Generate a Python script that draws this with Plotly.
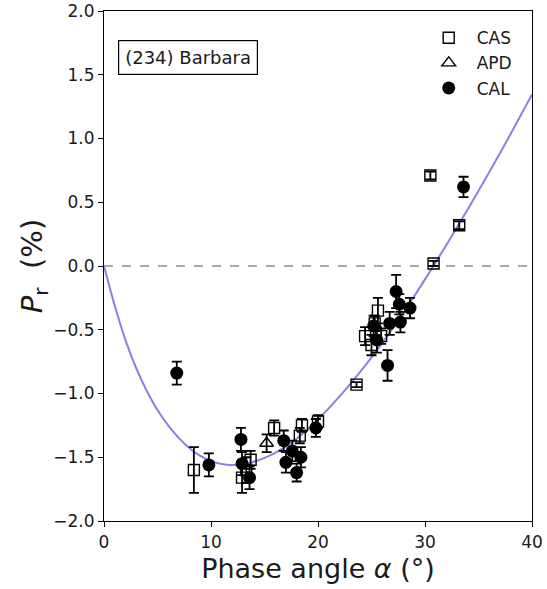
import plotly.graph_objects as go

# Polarimetric measurements of (234) Barbara: phase angle (deg), Pr (%), 1-sigma error
cas_alpha = [8.4, 12.9, 13.3, 13.7, 15.9, 18.3, 18.5, 20.0, 23.6, 24.4, 25.0, 25.3, 25.6, 25.9, 30.5, 30.8, 33.2]
cas_pr    = [-1.60, -1.66, -1.60, -1.52, -1.27, -1.33, -1.25, -1.22, -0.93, -0.55, -0.62, -0.45, -0.35, -0.55, 0.71, 0.02, 0.32]
cas_err   = [0.18, 0.12, 0.10, 0.07, 0.06, 0.06, 0.05, 0.05, 0.02, 0.07, 0.08, 0.06, 0.10, 0.06, 0.03, 0.02, 0.03]

apd_alpha = [15.2]
apd_pr    = [-1.39]
apd_err   = [0.07]

cal_alpha = [6.8, 9.8, 12.8, 12.9, 13.6, 16.8, 17.0, 17.6, 18.0, 18.4, 19.8,
             25.2, 25.5, 26.5, 26.7, 27.3, 27.6, 27.7, 28.6, 33.6]
cal_pr    = [-0.84, -1.56, -1.36, -1.55, -1.66, -1.37, -1.54, -1.45, -1.62, -1.50, -1.27,
             -0.47, -0.58, -0.78, -0.45, -0.20, -0.30, -0.44, -0.33, 0.62]
cal_err   = [0.09, 0.09, 0.09, 0.09, 0.09, 0.08, 0.08, 0.08, 0.07, 0.08, 0.07,
             0.08, 0.10, 0.12, 0.09, 0.13, 0.08, 0.08, 0.08, 0.08]

# Phase-curve fit sampled along alpha
fit_alpha = [0, 1, 2, 3, 4, 5, 6, 7, 8, 9, 10, 11, 12, 13, 14, 15, 16, 17, 18, 19, 20,
             22, 24, 26, 28, 30, 32, 34, 36, 38, 40]
fit_pr    = [0, -0.31, -0.58, -0.80, -0.98, -1.13, -1.25, -1.35, -1.43, -1.49, -1.53, -1.553,
             -1.56, -1.555, -1.535, -1.505, -1.465, -1.415, -1.355, -1.285, -1.205,
             -1.025, -0.825, -0.605, -0.365, -0.105, 0.165, 0.445, 0.735, 1.035, 1.345]

FONT = "DejaVu Sans"
TXT = "#1a1a1a"

fig = go.Figure()

fig.add_trace(go.Scatter(
    x=fit_alpha, y=fit_pr, mode="lines", showlegend=False,
    line=dict(color="#8F7EE0", width=2, shape="spline", smoothing=0.6),
    hoverinfo="skip"))

def err(arr):
    return dict(type="data", array=arr, visible=True, color="black", thickness=1.8, width=5)

fig.add_trace(go.Scatter(
    x=cas_alpha, y=cas_pr, mode="markers", name="CAS", legendgroup="cas",
    error_y=err(cas_err),
    marker=dict(symbol="square-open", size=11, color="black", line=dict(width=1.4, color="black"))))

fig.add_trace(go.Scatter(
    x=apd_alpha, y=apd_pr, mode="markers", name="APD", legendgroup="apd",
    error_y=err(apd_err),
    marker=dict(symbol="triangle-up-open", size=12, color="black", line=dict(width=1.4, color="black"))))

fig.add_trace(go.Scatter(
    x=cal_alpha, y=cal_pr, mode="markers", name="CAL", legendgroup="cal",
    error_y=err(cal_err),
    marker=dict(symbol="circle", size=13, color="black", line=dict(width=0))))

# zero-polarization reference line
fig.add_shape(type="line", xref="x", yref="y", x0=0, x1=40, y0=0, y1=0,
              line=dict(color="#555555", width=1.2, dash="dash"), layer="below")

fig.add_annotation(
    x=0.033, y=0.909, xref="paper", yref="paper", xanchor="left", yanchor="middle",
    text="(234) Barbara", showarrow=False,
    font=dict(family=FONT, size=18, color=TXT),
    bordercolor="black", borderwidth=1.2, borderpad=6, bgcolor="white")

axis_common = dict(
    showline=True, linecolor="black", linewidth=1.2, mirror=True,
    ticks="outside", ticklen=5, tickwidth=1.2, tickcolor="black",
    showgrid=False, zeroline=False, automargin=False,
    tickfont=dict(family=FONT, size=17, color=TXT))

fig.update_xaxes(range=[0, 40], tickvals=[0, 10, 20, 30, 40],
                 title=dict(text="Phase angle <i>α</i> (°)", font=dict(family=FONT, size=27, color=TXT), standoff=8),
                 **axis_common)
fig.update_yaxes(range=[-2, 2], tickvals=[-2, -1.5, -1, -0.5, 0, 0.5, 1, 1.5, 2], tickformat=".1f",
                 title=dict(text="<i>P</i><sub>r</sub>  (%)", font=dict(family=FONT, size=29, color=TXT), standoff=2),
                 **axis_common)

fig.update_layout(
    width=547, height=589,
    margin=dict(l=104, r=15, t=11, b=68),
    paper_bgcolor="white", plot_bgcolor="white",
    font=dict(family=FONT, color=TXT),
    legend=dict(x=0.74, y=0.982, xanchor="left", yanchor="top",
                bgcolor="rgba(255,255,255,0)", borderwidth=0,
                font=dict(family=FONT, size=17, color=TXT),
                itemwidth=46, tracegroupgap=0))

fig.write_html("out.html")
